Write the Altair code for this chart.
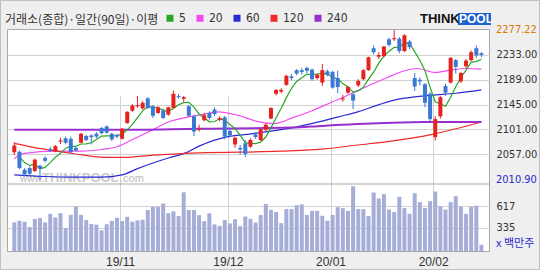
import altair as alt
import pandas as pd

# ---------------- data ----------------
opens = [2060, 2061, 2029, 2032, 2027, 2036, 2050, 2066, 2062, 2079,
         2085, 2084, 2068, 2077, 2089, 2090, 2093, 2103, 2106, 2093,
         2091, 2084, 2112, 2134, 2142, 2138, 2156, 2142, 2130, 2134,
         2127, 2139, 2160, 2155, 2142, 2124, 2100, 2117, 2130, 2136,
         2118, 2122, 2098, 2074, 2068, 2076, 2070, 2092, 2082, 2100,
         2120, 2164, 2168, 2180, 2195, 2206, 2206, 2210, 2207, 2192,
         2184, 2204, 2203, 2192, 2154, 2166, 2163, 2179, 2190, 2206,
         2245, 2230, 2231, 2261, 2261, 2262, 2240, 2257, 2192, 2189,
         2181, 2164, 2087, 2124, 2178, 2184, 2224, 2186, 2213, 2224,
         2245, 2236]
highs = [2078, 2063, 2032, 2035, 2049, 2038, 2053, 2070, 2073, 2086,
         2088, 2088, 2069, 2095, 2091, 2092, 2096, 2105, 2108, 2095,
         2093, 2103, 2133, 2146, 2160, 2151, 2158, 2144, 2142, 2138,
         2141, 2170, 2164, 2160, 2144, 2127, 2109, 2130, 2133, 2140,
         2124, 2125, 2101, 2088, 2073, 2082, 2085, 2095, 2102, 2112,
         2140, 2172, 2174, 2198, 2199, 2208, 2210, 2212, 2209, 2200,
         2217, 2207, 2205, 2205, 2162, 2178, 2165, 2190, 2208, 2230,
         2250, 2238, 2249, 2264, 2277.22, 2265, 2270, 2260, 2201, 2193,
         2183, 2167, 2124, 2160, 2182, 2229, 2226, 2203, 2226, 2241,
         2250, 2238]
lows = [2055, 2030, 2017, 2017, 2025, 2010.90, 2042, 2061, 2060, 2075,
        2074, 2058, 2062, 2076, 2080, 2074, 2085, 2092, 2093, 2080,
        2085, 2083, 2111, 2132, 2139, 2136, 2137, 2121, 2128, 2119,
        2125, 2138, 2155, 2150, 2123, 2089, 2097, 2115, 2118, 2124,
        2115, 2083, 2086, 2068, 2056, 2052, 2068, 2084, 2080, 2098,
        2119, 2161, 2165, 2178, 2188, 2197, 2198, 2201, 2187, 2189,
        2178, 2195, 2173, 2165, 2150, 2164, 2137, 2176, 2188, 2205,
        2234, 2226, 2229, 2248, 2258, 2236, 2238, 2243, 2169, 2179,
        2140, 2115, 2081, 2120, 2160, 2182, 2200, 2183, 2210, 2222,
        2228, 2229]
closes = [2072, 2032, 2021, 2022, 2047, 2031, 2045, 2063, 2071, 2081,
          2077, 2060, 2063, 2093, 2082, 2087, 2088, 2094, 2095, 2083,
          2088, 2102, 2132, 2143, 2144, 2148, 2139, 2125, 2140, 2121,
          2140, 2164, 2158, 2158, 2125, 2097, 2102, 2126, 2121, 2128,
          2121, 2088, 2090, 2086, 2065, 2057, 2082, 2087, 2101, 2109,
          2139, 2171, 2171, 2196, 2192, 2200, 2203, 2205, 2190, 2198,
          2206, 2198, 2175, 2176, 2156, 2176, 2152, 2187, 2206, 2229,
          2238, 2233, 2248, 2251, 2263, 2240, 2268, 2247, 2177, 2186,
          2148, 2119, 2119, 2158, 2166, 2228, 2212, 2201, 2223, 2238,
          2232, 2233]
volumes = [408, 430, 417, 348, 452, 465, 408, 521, 473, 530,
           335, 508, 616, 508, 439, 387, 378, 304, 385, 427,
           469, 427, 482, 417, 434, 443, 570, 612, 612, 655,
           530, 554, 492, 803, 570, 570, 504, 424, 528, 382,
           362, 440, 395, 450, 359, 485, 456, 407, 505, 651,
           573, 544, 398, 583, 582, 634, 645, 505, 560, 560,
           495, 430, 505, 608, 595, 560, 882, 583, 583, 492,
           800, 722, 778, 576, 543, 745, 596, 521, 791, 674,
           596, 687, 814, 619, 576, 674, 752, 615, 521, 615,
           628, 114]

ma20_idx = [0, 2, 8, 13, 17, 20, 23.5, 27, 30, 33.5, 36, 39.7, 43.5, 47.3,
            50.5, 54.4, 58, 61.8, 65.6, 69.4, 72.7, 76, 78.5, 82, 85, 88, 91]
ma20_val = [2049, 2058, 2062, 2062, 2065, 2070, 2085, 2100, 2114, 2122, 2126,
            2132, 2126, 2115, 2111, 2122, 2134, 2149, 2164, 2180, 2193, 2205,
            2209, 2202, 2206, 2209, 2208]
ma60_idx = [0, 6, 11, 17, 21, 24, 27, 30, 33.4, 36, 41.6, 45.4, 48.6, 54.4,
            59.3, 63.1, 66.9, 70.8, 74.6, 78.4, 82.2, 86, 91]
ma60_val = [2020, 2017, 2016, 2016, 2020, 2031, 2041, 2050, 2059, 2071, 2088,
            2092, 2096, 2104, 2114, 2123, 2132, 2144, 2154, 2159, 2162, 2165,
            2171]
ma120_idx = [0, 5.5, 12, 17.7, 21.3, 27, 36, 51.7, 60.5, 66.9, 72.7, 81.4, 91]
ma120_val = [2076, 2066, 2057, 2051, 2051, 2055, 2059, 2062, 2066, 2073, 2079,
             2092, 2114]
ma240_idx = [0, 20, 36, 54, 60, 72, 80, 91]
ma240_val = [2100, 2100, 2102, 2104, 2107, 2112, 2114, 2114]

month_ticks = [20.6, 41.6, 61.6, 81.6]
month_labels = ["19/11", "19/12", "20/01", "20/02"]
price_ticks = [2233, 2189, 2145, 2101, 2057]
volume_ticks = [335, 617]
extreme_vals = [2277.22, 2010.90]
ma_names = ["5", "20", "60", "120", "240"]
ma_colors = ["#26a526", "#f04cf0", "#2b2bd2", "#ee2a2a", "#9a2fd0"]

# ---------------- styling ----------------
W, H, PRICE_H = 482, 222, 155
RED, BLUE = "#e5221c", "#3b78d4"
VOLC = "#a6aed8"
GRID = "#d2d2d2"
TXT = "#333333"
NUMFONT = "'Liberation Sans Narrow', 'DejaVu Sans Condensed', sans-serif"
NUMSIZE = 11
KFONT = "Noto Sans CJK KR"

candles = pd.DataFrame({"i": list(range(len(opens))), "open": opens, "high": highs,
                        "low": lows, "close": closes, "vol": volumes})
rows = []
for name, idx, val in [("20", ma20_idx, ma20_val), ("60", ma60_idx, ma60_val),
                       ("120", ma120_idx, ma120_val), ("240", ma240_idx, ma240_val)]:
    for a, b in zip(idx, val):
        rows.append({"series": name, "i": a, "v": b})
ma_df = pd.DataFrame(rows)
ext_df = pd.DataFrame({"v": extreme_vals})

label_expr = "''"
for v, lab in reversed(list(zip(month_ticks, month_labels))):
    label_expr = f"abs(datum.value - {v}) < 0.5 ? '{lab}' : ({label_expr})"

x_scale = alt.Scale(domain=[-0.45, 91.5], nice=False, zero=False)
x_axis = alt.Axis(values=month_ticks, labelExpr=label_expr, grid=True, gridColor=GRID,
                  tickSize=0, domain=False, labelPadding=5, labelFont="Liberation Sans",
                  labelFontSize=12, labelColor=TXT, title=None, labelFlush=False)


def X():
    return alt.X("i:Q", scale=x_scale, axis=x_axis)


price_scale = alt.Scale(domain=[2003.7, 2279.2], range=[PRICE_H, 0], nice=False, zero=False)
price_axis = alt.Axis(orient="right", values=price_ticks, format=".2f", grid=True,
                      gridColor=GRID, tickSize=0, domain=False, labelPadding=7,
                      labelFont=NUMFONT, labelFontSize=NUMSIZE, labelColor=TXT, title=None)


def PY(field):
    return alt.Y(field, scale=price_scale, axis=price_axis)


vol_scale = alt.Scale(domain=[33, 912], range=[H, PRICE_H], nice=False, zero=False)
vol_axis = alt.Axis(orient="right", values=volume_ticks, format="d", grid=True,
                    gridColor=GRID, tickSize=0, domain=False, labelPadding=7,
                    labelFont=NUMFONT, labelFontSize=NUMSIZE, labelColor=TXT, title=None)

legend = alt.Legend(title="거래소(종합)·일간(90일)·이평", orient="none", legendX=-2, legendY=-17,
                    direction="horizontal", titleOrient="left", titleFont=KFONT,
                    titleFontSize=12, titleFontWeight="normal", titleColor=TXT,
                    titlePadding=5, labelFont=NUMFONT, labelFontSize=12, labelColor=TXT,
                    labelOffset=3, symbolType="square", symbolSize=9, symbolStrokeWidth=4,
                    columnPadding=4, padding=0)
color_enc = alt.Color("series:N", scale=alt.Scale(domain=ma_names, range=ma_colors), legend=legend)
candle_color = alt.condition("datum.close >= datum.open", alt.value(RED), alt.value(BLUE))

ma_lines = alt.Chart(ma_df).mark_line(interpolate="monotone").encode(
    x=X(), y=PY("v:Q"), color=color_enc,
    strokeWidth=alt.condition("datum.series == '240'", alt.value(2), alt.value(1.2)),
)
ma5_line = alt.Chart(candles).transform_window(
    ma="mean(close)", frame=[-4, 0], sort=[alt.SortField("i")]
).transform_filter("datum.i >= 1").transform_calculate(series="'5'").mark_line(
    strokeWidth=1.2).encode(x=X(), y=PY("ma:Q"), color=color_enc)
wicks = alt.Chart(candles).mark_rule(strokeWidth=1).encode(
    x=X(), y=PY("low:Q"), y2="high:Q", color=candle_color)
bodies = alt.Chart(candles).mark_bar(size=4).encode(
    x=X(), y=PY("open:Q"), y2="close:Q", color=candle_color)
ext_text = alt.Chart(ext_df).mark_text(align="left", baseline="middle", font=NUMFONT,
                                       fontSize=NUMSIZE).encode(
    x=alt.value(W + 7), y=PY("v:Q"), text=alt.Text("v:Q", format=".2f"),
    color=alt.condition("datum.v > 2200", alt.value("#e07800"), alt.value("#2a2ad0")))

price = alt.layer(ma_lines, ma5_line, wicks, bodies, ext_text)

vol_bars = alt.Chart(candles).mark_bar(size=4, color=VOLC).encode(
    x=X(), y=alt.Y("vol:Q", scale=vol_scale, axis=vol_axis), y2=alt.datum(33))
volume = alt.layer(vol_bars)


def label(text, x, y, **kw):
    return alt.Chart(pd.DataFrame({"t": [text]})).mark_text(**kw).encode(
        x=alt.value(x), y=alt.value(y), text="t:N")


sep = alt.Chart(pd.DataFrame({"t": [0]})).mark_rule(color="#a8a8a8", strokeWidth=1).encode(
    x=alt.value(0), x2=alt.value(W), y=alt.value(PRICE_H))
unit = label("x 백만주", W + 7, 215, align="left", baseline="middle", font=KFONT,
             fontSize=11, color="#2a2ad0")
logo_box = alt.Chart(pd.DataFrame({"t": [0]})).mark_rect(color="#1e62d0").encode(
    x=alt.value(451), x2=alt.value(484), y=alt.value(-16), y2=alt.value(-4))
logo_a = label("THINK", 413, -10, align="left", baseline="middle", font="Liberation Sans",
               fontSize=13, fontWeight="bold", color="#111111")
logo_b = label("POOL", 452, -10, align="left", baseline="middle", font="Liberation Sans",
               fontSize=12, fontWeight="bold", color="white")
wm_a = label("www.", 13, 150, align="left", baseline="middle", font="Liberation Sans",
             fontSize=10, color="#b8b8b8")
wm_b = label("THINKPOOL", 35, 149, align="left", baseline="middle", font="Liberation Sans",
             fontSize=13, fontWeight="bold", color="#cccccc")
wm_c = label(".com", 113, 150, align="left", baseline="middle", font="Liberation Sans",
             fontSize=11, color="#b8b8b8")
frame = alt.Chart(pd.DataFrame({"t": [0]})).mark_rect(
    fillOpacity=0, stroke="#c0c0c0", strokeWidth=1).encode(
    x=alt.value(-6.5), x2=alt.value(532.5), y=alt.value(-28.5), y2=alt.value(240.5))

chart = alt.layer(
    wm_a, wm_b, wm_c, price, volume, sep, unit, logo_box, logo_a, logo_b, frame
).resolve_scale(y="independent").properties(
    width=W, height=H,
    autosize=alt.AutoSizeParams(type="none"),
    padding={"left": 7, "top": 29, "right": 51, "bottom": 19},
    background="#efefef",
).configure_view(fill="white", stroke="#a8a8a8", strokeWidth=1)

chart.save("out.html", embed_options={"renderer": "svg", "actions": False})
